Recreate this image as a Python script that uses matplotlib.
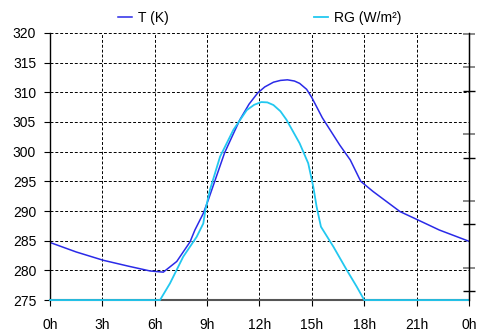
import matplotlib
matplotlib.use("Agg")
import matplotlib.pyplot as plt

plt.rcParams['font.family'] = ['Liberation Sans', 'DejaVu Sans']
plt.rcParams['font.size'] = 10

# temperature (K), hours of the day
t_hours = [0, 1.5, 3.05, 4.5, 5.73, 6.49, 7.26, 8.02, 8.3, 8.78, 9.07, 10.0, 10.5,
           10.88, 11.4, 11.9, 12.3, 12.8, 13.2, 13.6, 14.0, 14.3, 14.7, 15.0,
           15.6, 16.6, 17.2, 17.8, 18.5, 20.05, 21.0, 22.3, 24]
t_vals = [284.7, 283.1, 281.7, 280.7, 279.9, 279.7, 281.5, 284.8, 286.8, 289.6,
          291.9, 299.8, 303.0, 305.4, 308.0, 309.9, 310.9, 311.7, 312.0, 312.1,
          311.9, 311.5, 310.5, 309.1, 305.7, 301.1, 298.6, 295.0, 293.3, 289.9,
          288.6, 286.8, 284.9]

# global radiation (W/m2)
rg_hours = [0, 6.3, 6.87, 7.63, 8.4, 8.78, 8.9, 9.16, 9.74, 10.5, 11.27, 11.7,
            12.1, 12.45, 12.8, 13.2, 13.55, 14.3, 14.79, 15.08, 15.27, 15.52,
            16.23, 17.0, 17.57, 18.0, 24]
rg_vals = [0, 0, 56, 146, 213, 258, 303, 371, 483, 573, 640, 658, 667, 666, 657,
           636, 607, 528, 461, 382, 315, 247, 180, 101, 45, 0, 0]

x_ticks = [0, 3, 6, 9, 12, 15, 18, 21, 24]
x_labels = ['0h', '3h', '6h', '9h', '12h', '15h', '18h', '21h', '0h']
y_ticks = [275, 280, 285, 290, 295, 300, 305, 310, 315, 320]

fig = plt.figure(figsize=(4.81, 3.36), dpi=100)
ax = fig.add_axes([0.104, 0.107, 0.871, 0.795])
ax2 = ax.twinx()

l1, = ax.plot(t_hours, t_vals, color='#2a2ae8', lw=1.1, label='T (K)')
l2, = ax2.plot(rg_hours, rg_vals, color='#22c8f0', lw=1.3, label='RG (W/m²)',
               clip_on=False, solid_joinstyle='round')
ax2.set_zorder(ax.get_zorder() + 1)

ax.set_xlim(0, 24)
ax.set_ylim(275, 320)
ax2.set_ylim(0, 900)
ax.set_xticks(x_ticks)
ax.set_xticklabels(x_labels)
ax.set_yticks(y_ticks)
ax.grid(True, color='black', ls=(0, (3, 2)), lw=0.7)

for a in (ax, ax2):
    a.spines['top'].set_visible(False)
ax.spines['bottom'].set_color('#555555')
ax.spines['bottom'].set_linewidth(1.5)
ax.spines['left'].set_linewidth(1.0)
ax2.spines['right'].set_linewidth(1.0)
ax2.spines['left'].set_visible(False)
ax2.spines['bottom'].set_visible(False)
ax.tick_params(axis='both', direction='out', length=4, width=0.8, pad=3)
ax.tick_params(axis='y', pad=6)
ax.tick_params(axis='x', pad=9)

# right axis: ticks without labels
ax2.set_yticks([108, 334, 560, 785, 897])
ax2.set_yticks([30, 256, 479, 704], minor=True)
ax2.tick_params(axis='y', which='major', direction='inout', length=9, width=1.4,
                color='#888888', labelright=False)
ax2.tick_params(axis='y', which='minor', direction='inout', length=9, width=1.0,
                color='black', labelright=False)

fig.legend(handles=[l1, l2], loc='center', bbox_to_anchor=(0.54, 0.947), ncol=2,
           frameon=False, handlelength=1.0, handletextpad=0.4, columnspacing=10.5,
           fontsize=10)

fig.savefig('out.png', dpi=100)
